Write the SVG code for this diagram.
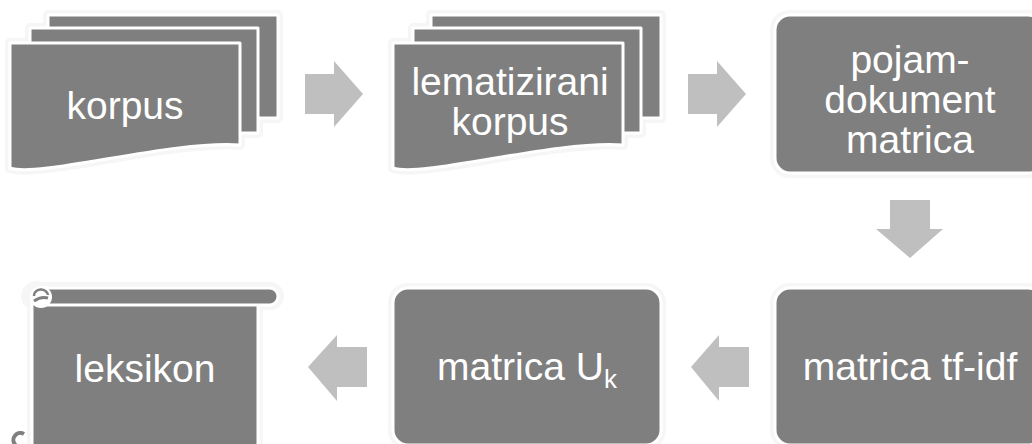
<svg xmlns="http://www.w3.org/2000/svg" width="1032" height="444" viewBox="0 0 1032 444">
  <style>
    .halo { fill: none; stroke: #f6f6f6; stroke-width: 10; stroke-linejoin: round; }
    .shape { fill: #7f7f7f; stroke: #ffffff; stroke-width: 3; stroke-linejoin: round; }
    .arrow { fill: #bfbfbf; }
    .label { fill: #ffffff; font-family: "Liberation Sans", Arial, sans-serif; font-size: 39px; text-anchor: middle; }
  </style>
  <defs>
    <!-- stacked pages with a wavy bottom on the front page -->
    <g id="pages">
      <path d="M48,15 H278 V118 H48 Z"/>
      <path d="M30,28 H258 V133 H30 Z"/>
      <path d="M10,43 H240 V145 C170,140 40,178 10,168 Z"/>
    </g>
  </defs>
  <rect width="1032" height="444" fill="#ffffff"/>

  <g id="connectors">
    <path class="arrow" d="M305,74 H334 V61 L363,94 L334,127 V114 H305 Z"/>
    <path class="arrow" d="M688,74 H717 V61 L746,94 L717,127 V114 H688 Z"/>
    <path class="arrow" d="M890,200 H930 V229 H943 L910,258 L876,229 H890 Z"/>
    <path class="arrow" d="M749,347 H719 V335 L691,367 L719,401 V387 H749 Z"/>
    <path class="arrow" d="M367,347 H337 V335 L308,367 L337,401 V387 H367 Z"/>
  </g>

  <g id="node-korpus">
    <use href="#pages" class="halo"/>
    <use href="#pages" class="shape"/>
    <text class="label" x="125" y="119">korpus</text>
  </g>

  <g id="node-lematizirani">
    <g transform="translate(383,0)">
      <use href="#pages" class="halo"/>
      <use href="#pages" class="shape"/>
    </g>
    <text class="label" x="510" y="95">lematizirani</text>
    <text class="label" x="510" y="135">korpus</text>
  </g>

  <g id="node-pojam">
    <rect class="halo" x="775" y="15" width="268" height="158" rx="15"/>
    <rect class="shape" x="775" y="15" width="268" height="158" rx="15"/>
    <text class="label" x="910" y="73">pojam-</text>
    <text class="label" x="910" y="113">dokument</text>
    <text class="label" x="910" y="153">matrica</text>
  </g>

  <g id="node-tfidf">
    <rect class="halo" x="775" y="288" width="268" height="157" rx="15"/>
    <rect class="shape" x="775" y="288" width="268" height="157" rx="15"/>
    <text class="label" x="910" y="380">matrica tf-idf</text>
  </g>

  <g id="node-uk">
    <rect class="halo" x="393" y="288" width="268" height="157" rx="15"/>
    <rect class="shape" x="393" y="288" width="268" height="157" rx="15"/>
    <text class="label" x="527" y="380">matrica U<tspan font-size="26" dy="8">k</tspan></text>
  </g>

  <g id="node-leksikon">
    <!-- scroll body and top roll -->
    <path class="halo" d="M40,287 H270 A9,9 0 0 1 270,305 H258 V450 H32 V305 A9,9 0 0 1 40,287 Z"/>
    <rect class="shape" x="32" y="303" width="226" height="150"/>
    <rect class="shape" x="33" y="288" width="245" height="17" rx="8.5"/>
    <!-- rolled end, top left -->
    <circle cx="41" cy="297" r="11" fill="#ffffff"/>
    <path d="M34,296 A7,6 0 0 1 48,295" fill="none" stroke="#7f7f7f" stroke-width="2.5"/>
    <path d="M34,301 Q41,296 48,298" fill="none" stroke="#7f7f7f" stroke-width="3"/>
    <!-- rolled end, bottom left -->
    <path d="M24,434 A7,7 0 1 0 24,446" fill="none" stroke="#7f7f7f" stroke-width="4"/>
    <text class="label" x="145" y="382">leksikon</text>
  </g>
</svg>
